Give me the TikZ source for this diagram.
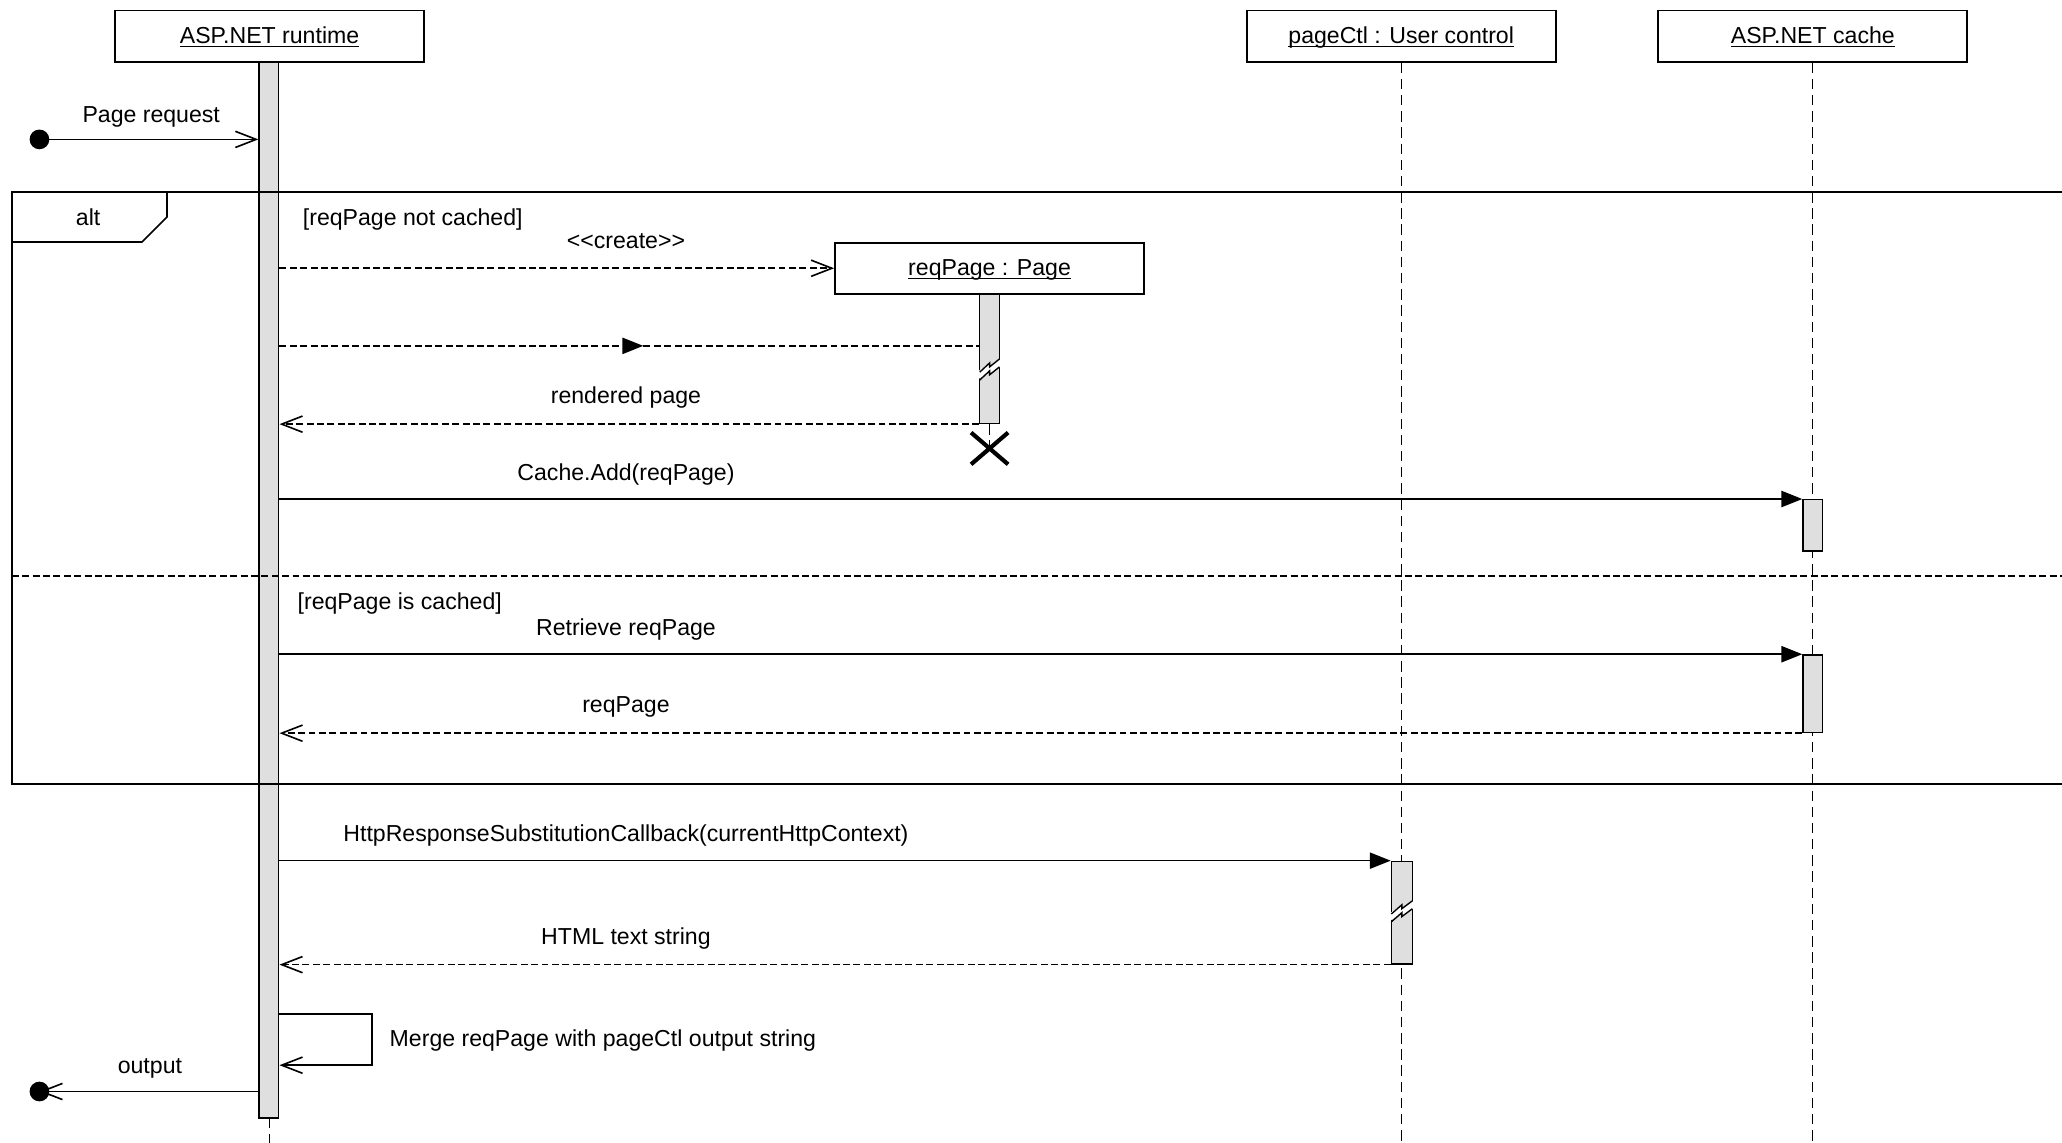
\documentclass[tikz,border=0pt]{standalone}
\usepackage{fontspec}
\setmainfont{Liberation Sans}
\usetikzlibrary{arrows.meta,shapes,positioning,fit,decorations.markings}

\begin{document}
\begin{tikzpicture}[x=0.02cm,y=-0.02cm]
      \tikzstyle{every node}=[font=\normalsize, inner sep=0pt]
      \tikzstyle{obj}=[draw, line width=0.8pt, fill=white, minimum width=4.7cm, minimum height=0.78cm, text height=7pt, text depth=1pt]
      \tikzstyle{bar}=[draw, line width=0.6pt, fill=gray!25]
      \tikzstyle{life}=[line width=0.5pt, dash pattern=on 4.5pt off 2.5pt]
      \tikzstyle{lbl}=[text height=7pt, text depth=0pt]
      \tikzstyle{dot}=[circle, fill=black, minimum size=0.3cm]
      \tikzstyle{call}=[line width=0.7pt, -{Triangle[length=9pt,width=7pt]}]
      \tikzstyle{async}=[line width=0.7pt, -{Straight Barb[length=9pt,width=7pt]}]
      \tikzstyle{reply}=[async, dash pattern=on 3pt off 1.5pt]
      \tikzstyle{midarrow}=[line width=0.7pt, dash pattern=on 3pt off 1.5pt, postaction={decorate},
        decoration={markings, mark=at position 0.52 with {\arrow{Triangle[length=9pt,width=7pt]}}}]

      \useasboundingbox (0,0) rectangle (1568,869);

      \node[obj] (RT) at (205,27.5) {\underline{\smash{ASP.NET runtime}}};
      \node[obj] (PC) at (1065.5,27.5) {\underline{\smash{pageCtl : User control}}};
      \node[obj] (AC) at (1378.5,27.5) {\underline{\smash{ASP.NET cache}}};

      \draw[life] (PC.south) -- (PC.south |- 0,869);
      \draw[life] (AC.south) -- (AC.south |- 0,869);
      \draw[life] (RT.south |- 0,850) -- (RT.south |- 0,869);

      \node[bar, fit={(197,47) (212,850)}] (RTbar) {};
      \node[obj] (RP) at (752.5,204) {\underline{\smash{reqPage : Page}}};
      \node[bar, fit={(745,224) (760,322)}] (RPbar) {};
      \node[bar, fit={(1371,380) (1386,419)}] (AC1) {};
      \node[bar, fit={(1371,498) (1386,557)}] (AC2) {};
      \node[bar, fit={(1058,655) (1074,733)}] (PCbar) {};

      \fill[white] (743,283) -- (752.5,276) -- (752.5,279) -- (762,272) -- (762,278) -- (752.5,285) -- (752.5,282) -- (743,289) -- cycle;
      \draw[line width=0.6pt] (745,283) -- (752.5,276) -- (752.5,279) -- (760,273);
      \draw[line width=0.6pt] (745,289) -- (752.5,282) -- (752.5,285) -- (760,279);
      \fill[white] (1056,695) -- (1066,688) -- (1066,691) -- (1076,684) -- (1076,690) -- (1066,697) -- (1066,694) -- (1056,701) -- cycle;
      \draw[line width=0.6pt] (1058,695) -- (1066,688) -- (1066,691) -- (1074,685);
      \draw[line width=0.6pt] (1058,701) -- (1066,694) -- (1066,697) -- (1074,691);

      \node[draw, cross out, line width=1.8pt, minimum width=0.5cm, minimum height=0.42cm] (RPx) at (752.5,341) {};
      \draw[life] (RPbar.south) -- (RPx.center);

      \draw[line width=0.7pt] (1568,146) -- (9,146) -- (9,596) -- (1568,596);
      \draw[line width=0.7pt] (9,184) -- (108,184) -- (127,165) -- (127,146);
      \draw[line width=0.6pt, dash pattern=on 3pt off 1.5pt] (9,438) -- (1568,438);

      \node[dot] (src) at (30,106) {};
      \node[dot] (snk) at (30,830) {};

      \node[lbl] (lreq) at (115,87) {Page request};
      \node[lbl] (lalt) at (67,165) {alt};
      \node[lbl, anchor=west] (g1) at (230,165) {[reqPage not cached]};
      \node[lbl] (lcreate) at (476,183) {<{}<create>{}>};
      \node[lbl] (lrend) at (476,301) {rendered page};
      \node[lbl] (ladd) at (476,359) {Cache.Add(reqPage)};
      \node[lbl, anchor=west] (g2) at (226,457) {[reqPage is cached]};
      \node[lbl] (lget) at (476,477) {Retrieve reqPage};
      \node[lbl] (lpage) at (476,536) {reqPage};
      \node[lbl] (lcb) at (476,634) {HttpResponseSubstitutionCallback(currentHttpContext)};
      \node[lbl] (lhtml) at (476,712) {HTML text string};
      \node[lbl, anchor=west] (lmerge) at (296,790) {Merge reqPage with pageCtl output string};
      \node[lbl] (lout) at (114,810) {output};

      \draw[async] (src.center) -- (RTbar.west |- src);
      \draw[reply] (RTbar.east |- RP.west) -- (RP.west);
      \draw[midarrow] (RTbar.east |- 0,263) -- (RPbar.west |- 0,263);
      \draw[reply] (RPbar.south west) -- (RTbar.east |- RPbar.south west);
      \draw[call] (RTbar.east |- AC1.north west) -- (AC1.north west);
      \draw[call] (RTbar.east |- AC2.north west) -- (AC2.north west);
      \draw[reply] (AC2.south west) -- (RTbar.east |- AC2.south west);
      \draw[call] (RTbar.east |- PCbar.north west) -- (PCbar.north west);
      \draw[reply] (PCbar.south west) -- (RTbar.east |- PCbar.south west);
      \draw[async] (RTbar.east |- 0,771) -- (283,771) -- (283,810) -- (RTbar.east |- 0,810);
      \draw[async] (RTbar.west |- snk) -- (snk.center);
\end{tikzpicture}
\end{document}
